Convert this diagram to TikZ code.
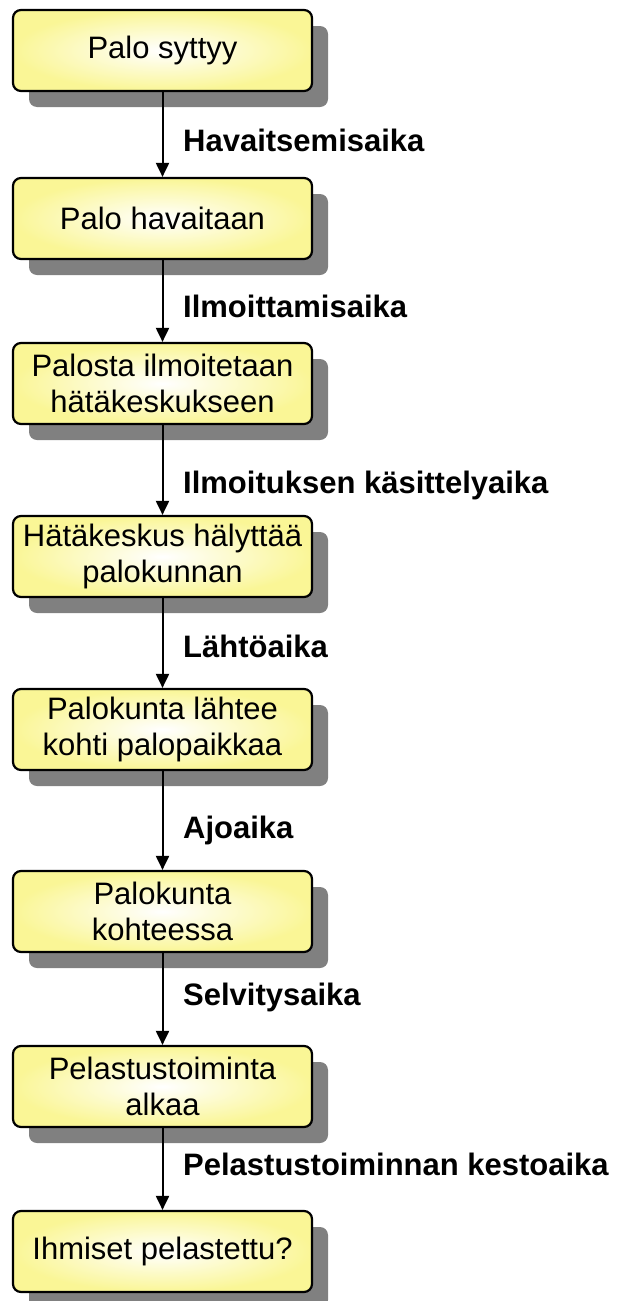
\documentclass[tikz,border=0pt]{standalone}
\usepackage{fontspec}
\setmainfont{Liberation Sans}
\usetikzlibrary{arrows.meta}

\definecolor{boxyellow}{RGB}{250,246,150}
\definecolor{shadowgray}{RGB}{128,128,128}

\begin{document}
\begin{tikzpicture}[x=1pt,y=1pt,
  stepbox/.style={draw=black, line width=2.2pt, rounded corners=8pt,
    minimum width=299pt, minimum height=81pt, inner sep=0pt,
    inner color=white, outer color=boxyellow,
    preaction={draw=none, fill=shadowgray,
      transform canvas={xshift=16pt, yshift=-16pt}},
    align=center, text=black, font=\fontsize{31}{36}\selectfont},
  flow/.style={line width=2pt, -{Triangle[length=14pt,width=13pt]}},
  phase/.style={anchor=base west, inner sep=0pt,
    font=\fontsize{31}{36}\selectfont\bfseries},
]
\useasboundingbox (0,0) rectangle (623,-1301);

% process steps
\node[stepbox] (s1) at (162.5,-50.5)   {Palo syttyy};
\node[stepbox] (s2) at (162.5,-218.5)  {Palo havaitaan};
\node[stepbox] (s3) at (162.5,-383.5)  {Palosta ilmoitetaan\\hätäkeskukseen};
\node[stepbox] (s4) at (162.5,-556.5)  {Hätäkeskus hälyttää\\palokunnan};
\node[stepbox] (s5) at (162.5,-729.5)  {Palokunta lähtee\\kohti palopaikkaa};
\node[stepbox] (s6) at (162.5,-911.5)  {Palokunta\\kohteessa};
\node[stepbox] (s7) at (162.5,-1086.5) {Pelastustoiminta\\alkaa};
\node[stepbox] (s8) at (162.5,-1251.5) {Ihmiset pelastettu?};

% transitions
\draw[flow] (s1.south) -- (s2.north);
\draw[flow] (s2.south) -- (s3.north);
\draw[flow] (s3.south) -- (s4.north);
\draw[flow] (s4.south) -- (s5.north);
\draw[flow] (s5.south) -- (s6.north);
\draw[flow] (s6.south) -- (s7.north);
\draw[flow] (s7.south) -- (s8.north);

% durations of each phase
\node[phase] (t1) at (183,-151)  {Havaitsemisaika};
\node[phase] (t2) at (183,-317)  {Ilmoittamisaika};
\node[phase] (t3) at (183,-493)  {Ilmoituksen käsittelyaika};
\node[phase] (t4) at (183,-657)  {Lähtöaika};
\node[phase] (t5) at (183,-838)  {Ajoaika};
\node[phase] (t6) at (183,-1005) {Selvitysaika};
\node[phase] (t7) at (183,-1175) {Pelastustoiminnan kestoaika};
\end{tikzpicture}
\end{document}
